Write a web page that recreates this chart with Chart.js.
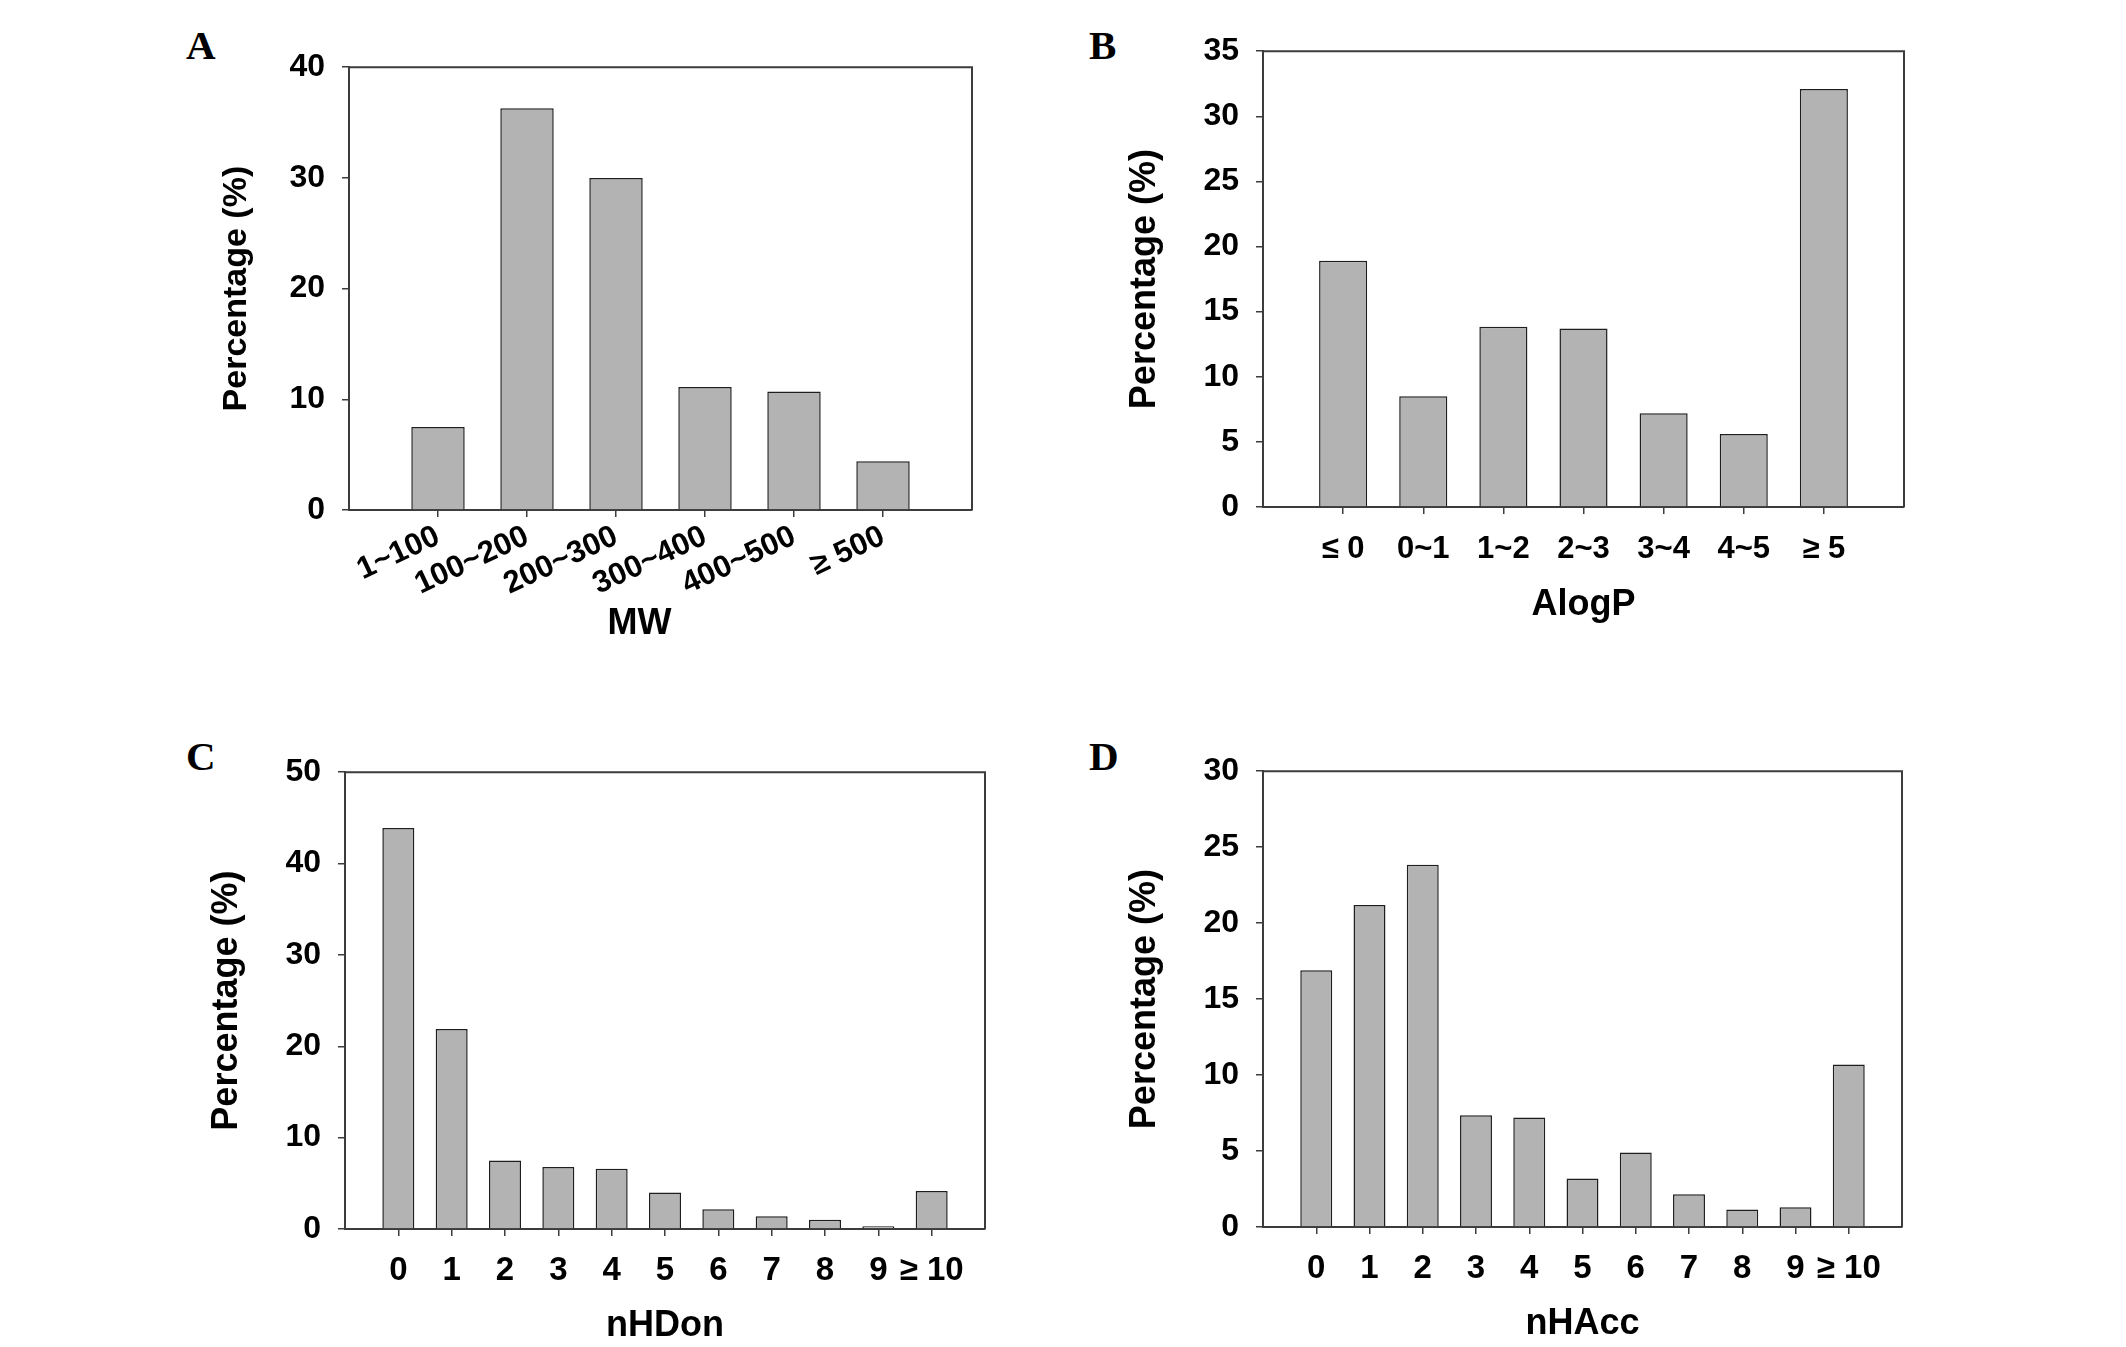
<!DOCTYPE html>
<html>
<head>
<meta charset="utf-8">
<script src="https://cdn.jsdelivr.net/npm/chart.js@4.4.1/dist/chart.umd.min.js"></script>
<style>
  body { margin: 0; background: #fff; width: 2126px; height: 1347px; position: relative; overflow: hidden; }
  canvas { position: absolute; }
  .letter { position: absolute; font-family: 'Liberation Serif', 'Times New Roman', serif; font-weight: bold; font-size: 41px; line-height: 1; }
</style>
</head>
<body>
<div class="letter" style="left:186px; top:25px;">A</div>
<div class="letter" style="left:1089px; top:25px;">B</div>
<div class="letter" style="left:186px; top:736px;">C</div>
<div class="letter" style="left:1089px; top:736px;">D</div>
<canvas id="chartA"></canvas>
<canvas id="chartB"></canvas>
<canvas id="chartC"></canvas>
<canvas id="chartD"></canvas>
<script>
// data (percentages)
const mwLabels = ['1~100', '100~200', '200~300', '300~400', '400~500', '\u2265 500'];
const mwValues = [7.5, 36.3, 30.0, 11.1, 10.7, 4.4];

const alogpLabels = ['\u2264 0', '0~1', '1~2', '2~3', '3~4', '4~5', '\u2265 5'];
const alogpValues = [18.9, 8.5, 13.85, 13.7, 7.2, 5.6, 32.1];

const hdonLabels = ['0', '1', '2', '3', '4', '5', '6', '7', '8', '9', '\u2265 10'];
const hdonValues = [43.9, 21.9, 7.5, 6.8, 6.6, 4.0, 2.15, 1.4, 1.0, 0.3, 4.15];

const haccLabels = ['0', '1', '2', '3', '4', '5', '6', '7', '8', '9', '\u2265 10'];
const haccValues = [16.9, 21.2, 23.85, 7.35, 7.2, 3.2, 4.9, 2.15, 1.15, 1.3, 10.7];

const yTitle = 'Percentage (%)';
const FONT = "'Liberation Sans', Arial, sans-serif";
const AXIS = '#3c3c3c';
const Y_W = 160, TOP = 30, RIGHT = 20, X_H = 150;

// top and right border of the plot box, plus an x title drawn off-centre when asked
const frame = {
    id: 'frame',
    afterDraw(chart, args, o) {
        const a = chart.chartArea;
        const ctx = chart.ctx;
        ctx.save();
        ctx.strokeStyle = AXIS;
        ctx.lineWidth = 2;
        ctx.beginPath();
        ctx.moveTo(a.left, a.top);
        ctx.lineTo(a.right, a.top);
        ctx.lineTo(a.right, a.bottom);
        ctx.stroke();
        if (o.title) {
            ctx.fillStyle = '#000';
            ctx.font = 'bold 36px ' + FONT;
            ctx.textAlign = 'center';
            ctx.textBaseline = 'middle';
            ctx.fillText(o.title, (a.left + a.right) / 2 + o.dx, a.bottom + o.dy);
        }
        ctx.restore();
    }
};

function makeChart(id, box, labels, values, opts) {
    const canvas = document.getElementById(id);
    const w = (box.r - box.l) + Y_W + RIGHT;
    const h = (box.b - box.t) + TOP + X_H;
    canvas.width = w;
    canvas.height = h;
    canvas.style.left = (box.l - Y_W) + 'px';
    canvas.style.top = (box.t - TOP) + 'px';

    const padLabels = [''].concat(labels, ['']);
    const padValues = [null].concat(values, [null]);
    const last = padLabels.length - 1;

    return new Chart(canvas, {
        type: 'bar',
        data: {
            labels: padLabels,
            datasets: [{
                data: padValues,
                backgroundColor: '#b3b3b3',
                borderColor: '#1e1e1e',
                borderWidth: 1.5,
                barPercentage: 0.6,
                categoryPercentage: 1.0
            }]
        },
        options: {
            responsive: false,
            animation: false,
            devicePixelRatio: 1,
            layout: { padding: { left: 0, top: TOP, right: RIGHT, bottom: 0 } },
            plugins: {
                legend: { display: false },
                tooltip: { enabled: false },
                frame: opts.freeTitle || {}
            },
            scales: {
                x: {
                    offset: false,
                    afterFit: (s) => { s.height = X_H; },
                    border: { display: true, color: AXIS, width: 2 },
                    grid: {
                        offset: false,
                        drawOnChartArea: false,
                        drawTicks: true,
                        tickLength: 7,
                        lineWidth: 1.5,
                        tickColor: (c) => (c.index === 0 || c.index === last) ? 'rgba(0,0,0,0)' : AXIS
                    },
                    ticks: {
                        autoSkip: false,
                        minRotation: opts.rot,
                        maxRotation: opts.rot,
                        padding: opts.xPad,
                        color: '#000',
                        font: { family: FONT, weight: 'bold', size: opts.xFont }
                    },
                    title: {
                        display: !opts.freeTitle,
                        text: opts.xTitle,
                        color: '#000',
                        padding: { top: 0, bottom: opts.xTitlePad },
                        font: { family: FONT, weight: 'bold', size: 36 }
                    }
                },
                y: {
                    min: 0,
                    max: opts.yMax,
                    afterFit: (s) => { s.width = Y_W; },
                    border: { display: true, color: AXIS, width: 2 },
                    grid: {
                        drawOnChartArea: false,
                        drawTicks: true,
                        tickLength: 7,
                        lineWidth: 1.5,
                        tickColor: AXIS
                    },
                    ticks: {
                        stepSize: opts.yStep,
                        padding: 17,
                        color: '#000',
                        font: { family: FONT, weight: 'bold', size: 32 }
                    },
                    title: {
                        display: true,
                        text: yTitle,
                        color: '#000',
                        padding: { top: opts.yTitlePad, bottom: 0 },
                        font: { family: FONT, weight: 'bold', size: opts.yTitleFont }
                    }
                }
            }
        },
        plugins: [frame]
    });
}

makeChart('chartA', { l: 349, t: 61, r: 972, b: 510 }, mwLabels, mwValues,
    { rot: 25, xPad: 1, xFont: 31, xTitle: 'MW', freeTitle: { title: 'MW', dx: -21, dy: 114 },
      yMax: 40, yStep: 10, yTitlePad: 27, yTitleFont: 34 });
makeChart('chartB', { l: 1263, t: 45, r: 1904, b: 507 }, alogpLabels, alogpValues,
    { rot: 0, xPad: 17, xFont: 31, xTitle: 'AlogP', xTitlePad: 30, yMax: 35, yStep: 5, yTitlePad: 20, yTitleFont: 36 });
makeChart('chartC', { l: 345, t: 766, r: 985, b: 1229 }, hdonLabels, hdonValues,
    { rot: 0, xPad: 15, xFont: 33, xTitle: 'nHDon', xTitlePad: 31, yMax: 50, yStep: 10, yTitlePad: 20, yTitleFont: 36 });
makeChart('chartD', { l: 1263, t: 765, r: 1902, b: 1227 }, haccLabels, haccValues,
    { rot: 0, xPad: 15, xFont: 33, xTitle: 'nHAcc', xTitlePad: 31, yMax: 30, yStep: 5, yTitlePad: 20, yTitleFont: 36 });
</script>
</body>
</html>
